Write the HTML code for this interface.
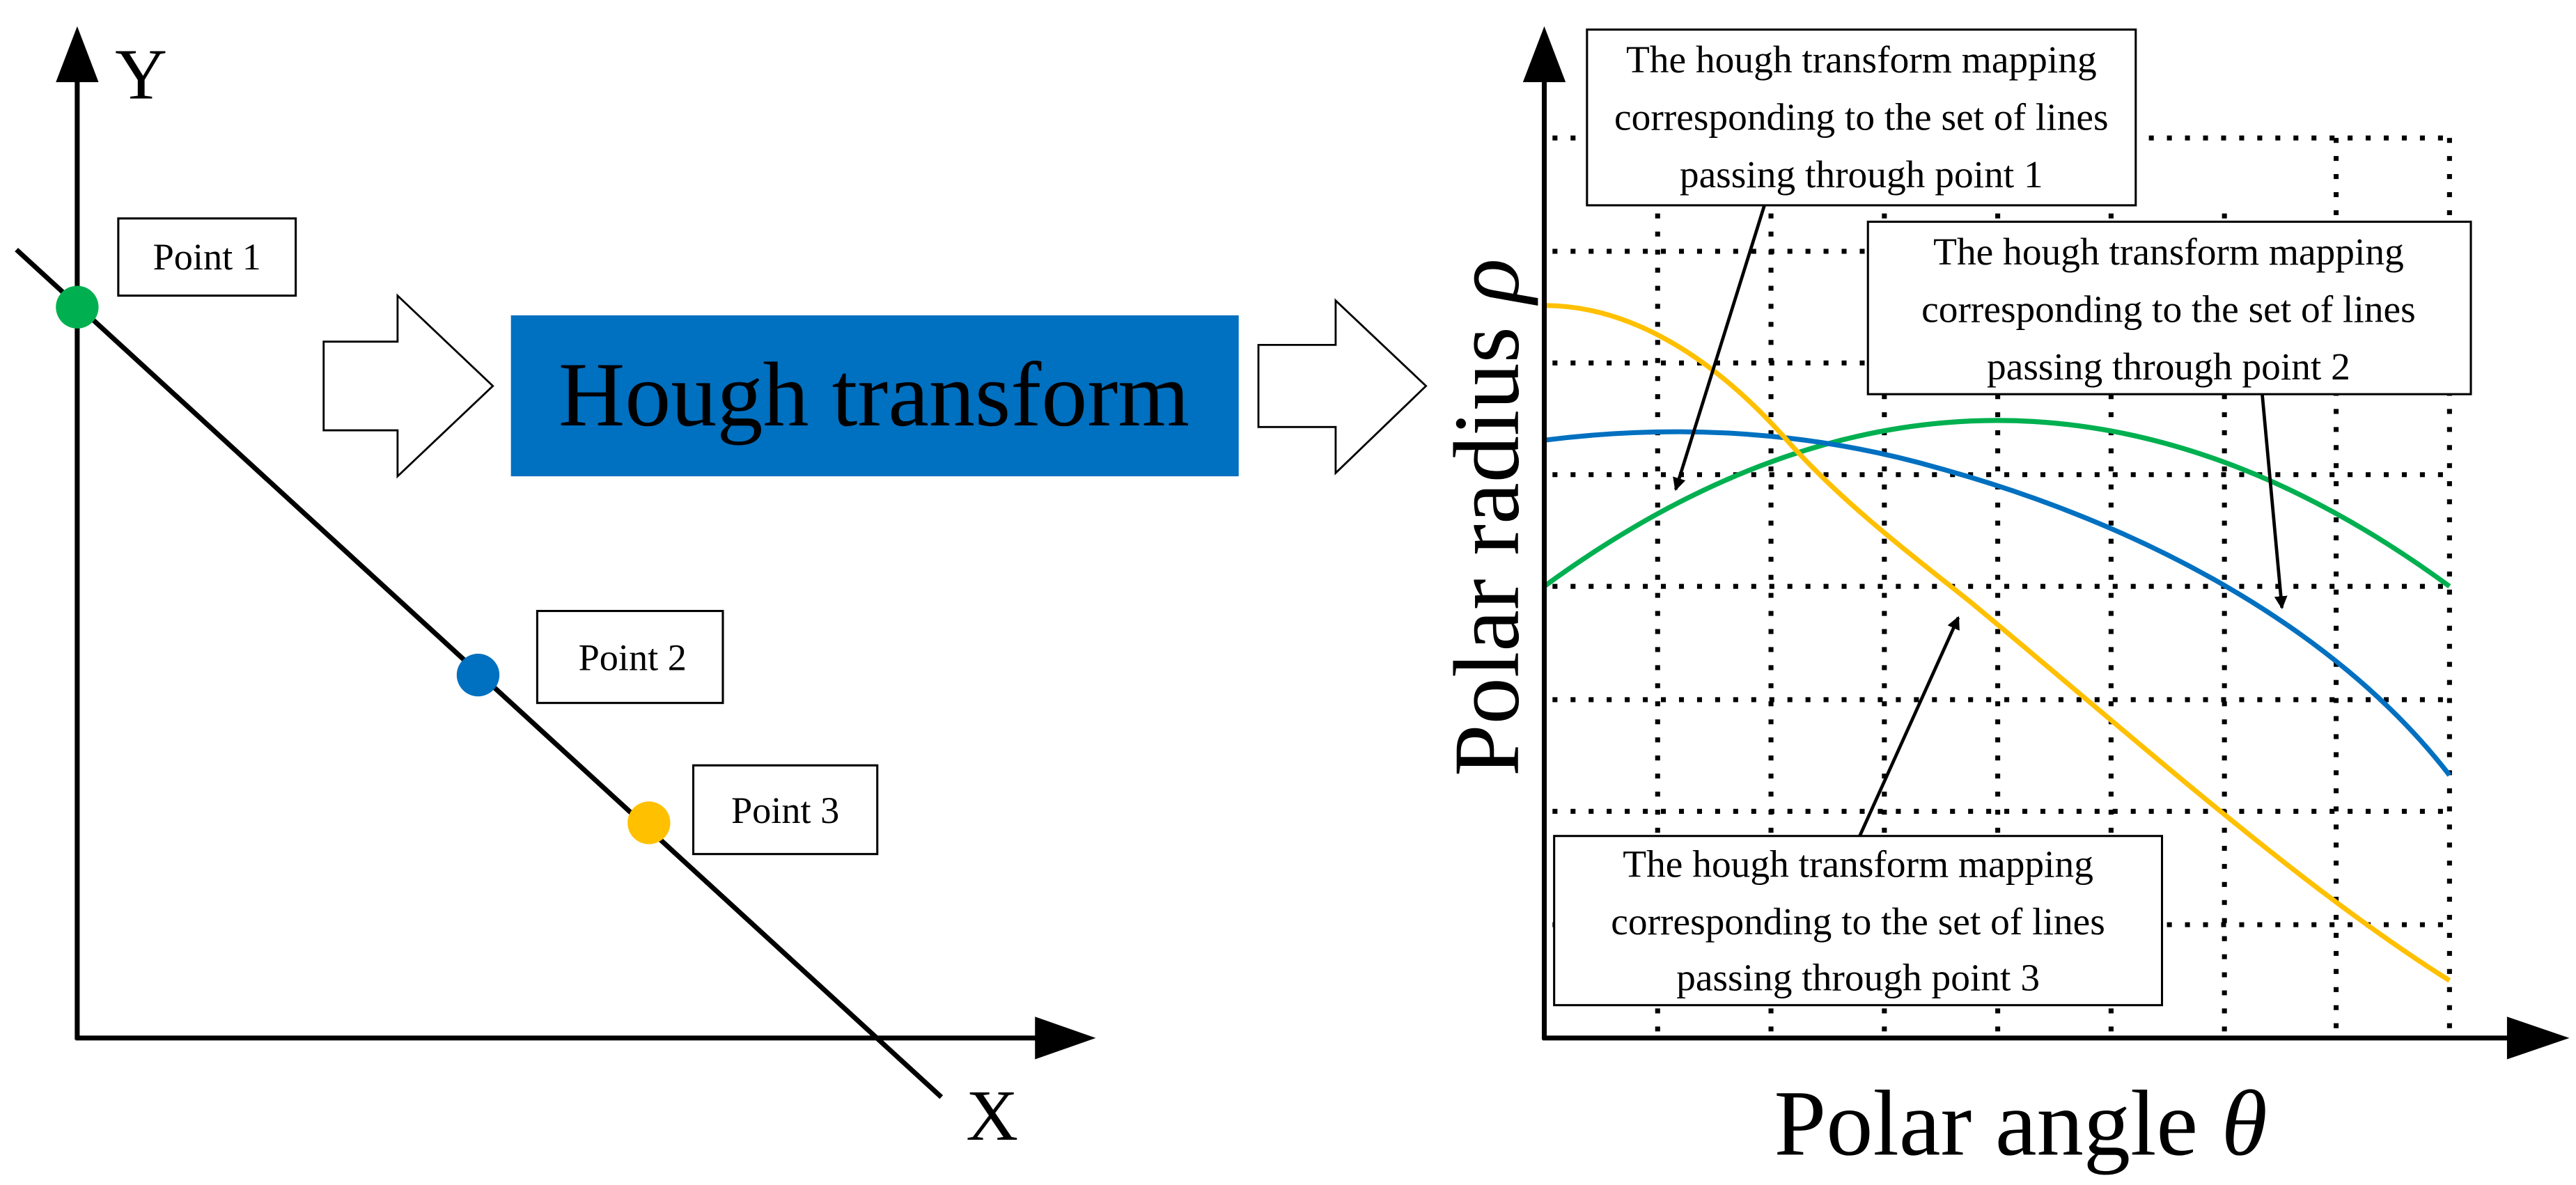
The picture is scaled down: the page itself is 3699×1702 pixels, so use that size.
<!DOCTYPE html>
<html><head><meta charset="utf-8"><style>html,body{margin:0;padding:0;background:#fff}svg{display:block}</style></head>
<body>
<svg width="3699" height="1702" viewBox="0 0 1568 721.5" preserveAspectRatio="none" xmlns="http://www.w3.org/2000/svg" font-family="Liberation Serif, serif">
<defs>
<marker id="ah" markerWidth="8" markerHeight="8" refX="7" refY="4" orient="auto" markerUnits="userSpaceOnUse" viewBox="0 0 8 8"><path d="M0,0 L8,4 L0,8 z" fill="#000"/></marker>
</defs>
<rect width="1568" height="721.5" fill="#fff"/>
<line x1="47" y1="45" x2="47" y2="633" stroke="#000" stroke-width="3"/>
<polygon points="47,16 34,50 60,50" fill="#000"/>
<line x1="46" y1="632" x2="635" y2="632" stroke="#000" stroke-width="3"/>
<polygon points="667,632 630,619 630,645" fill="#000"/>
<text x="70" y="60" font-size="44">Y</text>
<text x="588" y="694" font-size="44">X</text>
<line x1="10" y1="152" x2="573" y2="668" stroke="#000" stroke-width="3"/>
<circle cx="47" cy="187" r="13" fill="#00B050"/>
<circle cx="291" cy="411" r="13" fill="#0070C0"/>
<circle cx="395" cy="501" r="13" fill="#FFC000"/>
<rect x="72" y="133" width="108" height="47" fill="#fff" stroke="#000" stroke-width="1.3"/>
<text x="126" y="164" font-size="23" text-anchor="middle">Point 1</text>
<rect x="327" y="372" width="113" height="56" fill="#fff" stroke="#000" stroke-width="1.3"/>
<text x="385" y="408" font-size="23" text-anchor="middle">Point 2</text>
<rect x="422" y="466" width="112" height="54" fill="#fff" stroke="#000" stroke-width="1.3"/>
<text x="478" y="501" font-size="23" text-anchor="middle">Point 3</text>
<polygon points="197,208 242,208 242,180 300,235 242,290 242,262 197,262" fill="#fff" stroke="#000" stroke-width="1.2"/>
<polygon points="766,210 813,210 813,183 868,235 813,288 813,260 766,260" fill="#fff" stroke="#000" stroke-width="1.2"/>
<rect x="311" y="192" width="443" height="98" fill="#0070C0"/>
<text x="532" y="259" font-size="56" text-anchor="middle">Hough transform</text>
<g stroke="#000" stroke-width="3" stroke-dasharray="3 8" stroke-linecap="butt" fill="none">
<line x1="1009" y1="130" x2="1009" y2="632"/>
<line x1="1078" y1="130" x2="1078" y2="632"/>
<line x1="1147" y1="130" x2="1147" y2="632"/>
<line x1="1216" y1="130" x2="1216" y2="632"/>
<line x1="1285" y1="130" x2="1285" y2="632"/>
<line x1="1354" y1="130" x2="1354" y2="632"/>
<line x1="1422" y1="84" x2="1422" y2="632"/>
<line x1="1491" y1="84" x2="1491" y2="632"/>
<line x1="945" y1="84" x2="1491" y2="84"/>
<line x1="945" y1="153" x2="1491" y2="153"/>
<line x1="945" y1="221" x2="1491" y2="221"/>
<line x1="945" y1="289" x2="1491" y2="289"/>
<line x1="945" y1="357" x2="1491" y2="357"/>
<line x1="945" y1="426" x2="1491" y2="426"/>
<line x1="945" y1="494" x2="1491" y2="494"/>
<line x1="945" y1="563" x2="1491" y2="563"/>
</g>
<path d="M940,357 Q1216,155 1491,357" fill="none" stroke="#00B050" stroke-width="3"/>
<path d="M940,268 C1020,258 1100,262 1180,285 C1300,318 1420,380 1491,472" fill="none" stroke="#0070C0" stroke-width="3"/>
<path d="M940,186 C990,186 1040,215 1085,265 C1120,305 1160,335 1200,367 C1300,450 1400,540 1491,597" fill="none" stroke="#FFC000" stroke-width="3"/>
<line x1="940" y1="45" x2="940" y2="633" stroke="#000" stroke-width="3"/>
<polygon points="940,16 927,50 953,50" fill="#000"/>
<line x1="939" y1="632" x2="1530" y2="632" stroke="#000" stroke-width="3"/>
<polygon points="1564,632 1526,619 1526,645" fill="#000"/>
<text x="1230" y="703" font-size="57" text-anchor="middle">Polar angle <tspan font-style="italic">θ</tspan></text>
<text transform="translate(924,315) rotate(-90)" font-size="57" text-anchor="middle">Polar radius <tspan font-style="italic">ρ</tspan></text>
<rect x="966" y="18" width="334" height="107" fill="#fff" stroke="#000" stroke-width="1.3"/>
<g font-size="23.5" text-anchor="middle">
<text x="1133" y="44">The hough transform mapping</text>
<text x="1133" y="79">corresponding to the set of lines</text>
<text x="1133" y="114">passing through point 1</text>
</g>
<rect x="1137" y="135" width="367" height="105" fill="#fff" stroke="#000" stroke-width="1.3"/>
<g font-size="23.5" text-anchor="middle">
<text x="1320" y="161">The hough transform mapping</text>
<text x="1320" y="196">corresponding to the set of lines</text>
<text x="1320" y="231">passing through point 2</text>
</g>
<rect x="946" y="509" width="370" height="103" fill="#fff" stroke="#000" stroke-width="1.3"/>
<g font-size="23.5" text-anchor="middle">
<text x="1131" y="534">The hough transform mapping</text>
<text x="1131" y="569">corresponding to the set of lines</text>
<text x="1131" y="603">passing through point 3</text>
</g>
<line x1="1074" y1="125" x2="1020" y2="298" stroke="#000" stroke-width="2" marker-end="url(#ah)"/>
<line x1="1377" y1="240" x2="1389" y2="370" stroke="#000" stroke-width="2" marker-end="url(#ah)"/>
<line x1="1132" y1="509" x2="1192" y2="376" stroke="#000" stroke-width="2" marker-end="url(#ah)"/>
</svg>
</body></html>
